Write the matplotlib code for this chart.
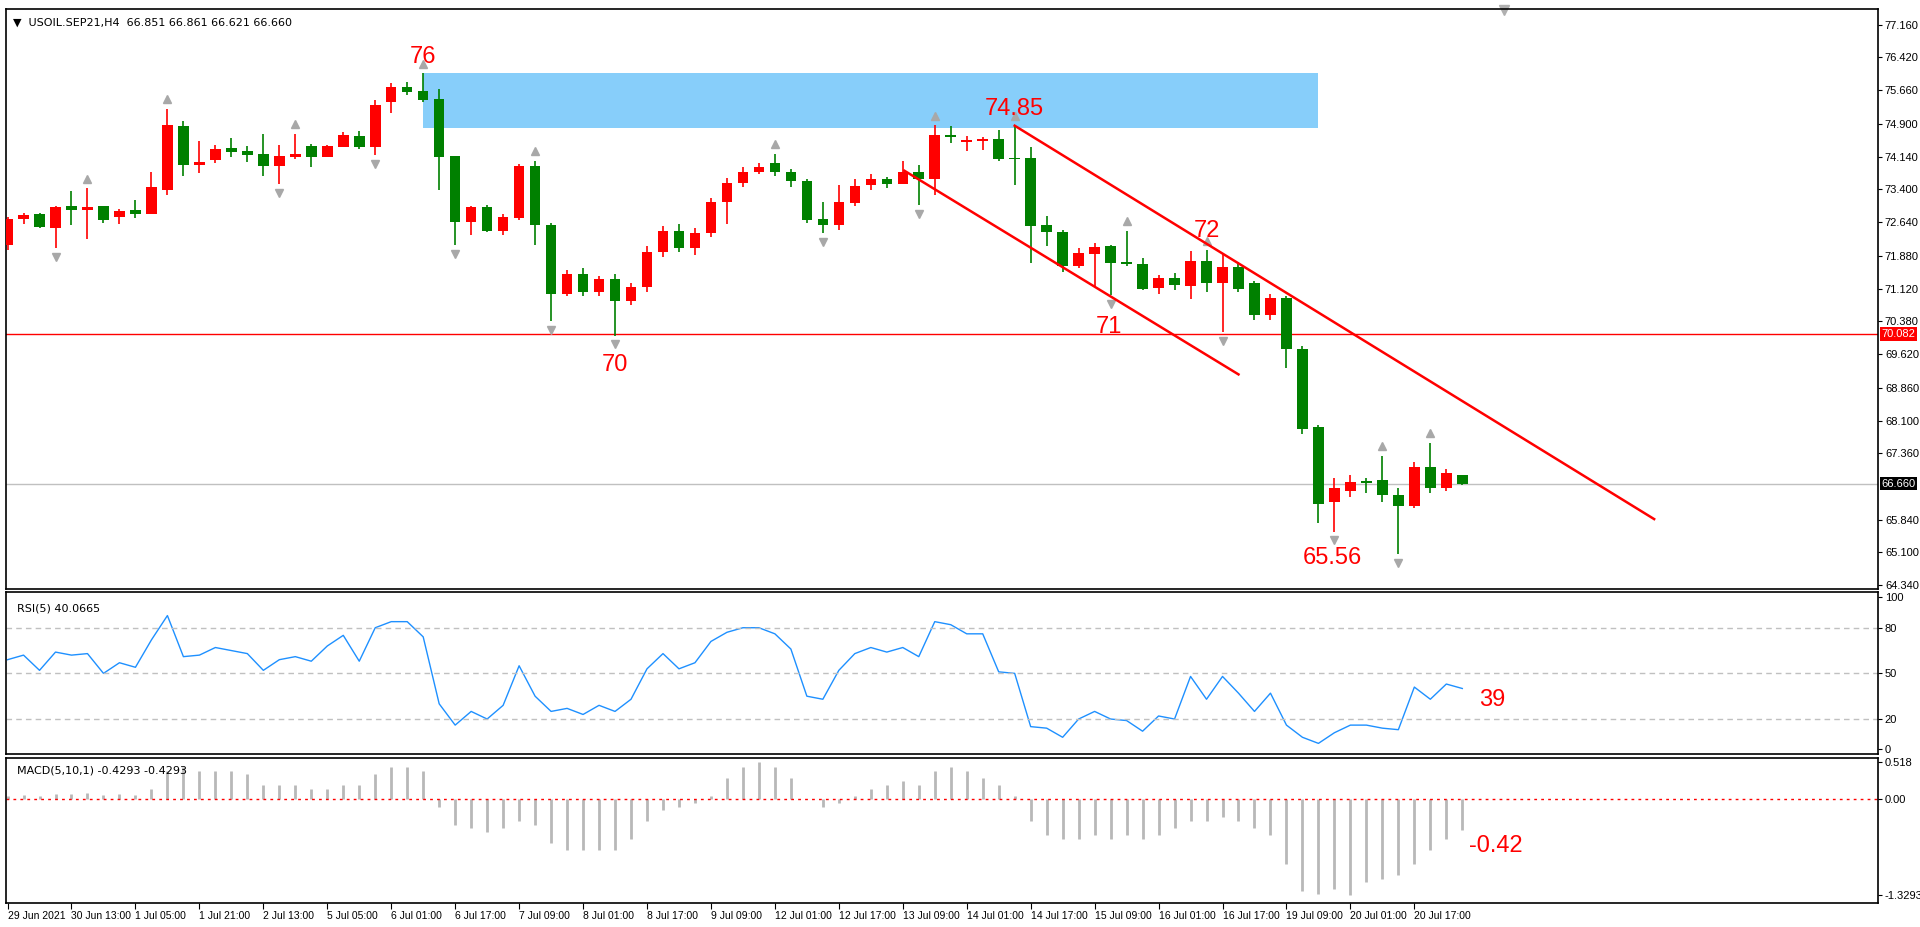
import matplotlib
matplotlib.use("Agg")
from matplotlib import pyplot as plt
from matplotlib.patches import Rectangle
from matplotlib.transforms import blended_transform_factory
import numpy as np

plt.rcParams['font.family'] = ['Liberation Sans', 'DejaVu Sans']

# H4 candles, bar index 0..91
opens = [72.12, 72.72, 72.83, 72.51, 73.01, 72.92, 73.01, 72.76, 72.92, 72.83,
         73.38, 74.84, 73.96, 74.06, 74.34, 74.27, 74.20, 73.93, 74.13, 74.38,
         74.13, 74.36, 74.61, 74.36, 75.39, 75.73, 75.64, 75.46, 74.16, 72.65,
         72.99, 72.44, 72.74, 73.93, 72.58, 71.00, 71.45, 71.05, 71.35, 70.85,
         71.15, 71.95, 72.45, 72.05, 72.40, 73.10, 73.55, 73.80, 74.00, 73.80,
         73.58, 72.72, 72.58, 73.08, 73.49, 73.63, 73.52, 73.79, 73.63, 74.64,
         74.48, 74.50, 74.54, 74.11, 74.11, 72.58, 72.42, 71.64, 71.92, 72.10,
         71.73, 71.68, 71.14, 71.37, 71.19, 71.76, 71.24, 71.62, 71.25, 70.52,
         70.90, 69.75, 67.95, 66.25, 66.50, 66.72, 66.75, 66.40, 66.15, 67.05,
         66.55, 66.851]
highs = [72.75, 72.85, 72.86, 73.01, 73.36, 73.42, 73.01, 72.94, 73.15, 73.79,
         75.23, 74.96, 74.50, 74.41, 74.57, 74.38, 74.66, 74.41, 74.66, 74.43,
         74.41, 74.70, 74.72, 75.43, 75.82, 75.85, 76.05, 75.69, 74.16, 73.01,
         73.03, 72.83, 73.97, 74.04, 72.62, 71.55, 71.60, 71.40, 71.45, 71.25,
         72.10, 72.55, 72.60, 72.50, 73.20, 73.65, 73.90, 74.00, 74.20, 73.85,
         73.63, 73.10, 73.49, 73.63, 73.74, 73.68, 74.04, 73.95, 74.86, 74.84,
         74.61, 74.58, 74.75, 74.86, 74.36, 72.78, 72.46, 72.05, 72.17, 72.12,
         72.44, 71.82, 71.44, 71.48, 71.98, 72.00, 71.91, 71.73, 71.30, 71.00,
         70.95, 69.80, 68.00, 66.80, 66.85, 66.80, 67.30, 66.55, 67.15, 67.60,
         67.00, 66.861]
lows = [72.00, 72.60, 72.50, 72.05, 72.58, 72.26, 72.62, 72.60, 72.74, 72.83,
        73.26, 73.70, 73.77, 73.99, 74.13, 74.03, 73.70, 73.52, 74.09, 73.90,
        74.13, 74.36, 74.31, 74.18, 75.14, 75.55, 75.39, 73.39, 72.12, 72.35,
        72.42, 72.34, 72.69, 72.12, 70.38, 70.95, 70.95, 70.95, 70.05, 70.75,
        71.05, 71.85, 71.95, 71.90, 72.30, 72.60, 73.45, 73.75, 73.70, 73.45,
        72.63, 72.40, 72.46, 73.01, 73.38, 73.42, 73.52, 73.04, 73.26, 74.45,
        74.27, 74.29, 74.04, 73.49, 71.71, 72.10, 71.51, 71.60, 71.16, 70.98,
        71.64, 71.09, 71.00, 71.09, 70.89, 71.05, 70.13, 71.05, 70.40, 70.40,
        69.30, 67.80, 65.75, 65.56, 66.35, 66.45, 66.25, 65.05, 66.10, 66.45,
        66.50, 66.621]
closes = [72.72, 72.81, 72.53, 72.99, 72.92, 72.99, 72.69, 72.90, 72.83, 73.45,
          74.86, 73.96, 74.02, 74.32, 74.25, 74.18, 73.93, 74.16, 74.20, 74.13,
          74.38, 74.63, 74.36, 75.32, 75.73, 75.62, 75.43, 74.13, 72.65, 72.99,
          72.44, 72.76, 73.93, 72.58, 71.00, 71.45, 71.05, 71.35, 70.85, 71.15,
          71.95, 72.45, 72.05, 72.40, 73.10, 73.55, 73.80, 73.90, 73.80, 73.58,
          72.69, 72.58, 73.10, 73.47, 73.63, 73.52, 73.79, 73.63, 74.64, 74.59,
          74.52, 74.54, 74.09, 74.09, 72.56, 72.42, 71.64, 71.94, 72.08, 71.71,
          71.68, 71.12, 71.37, 71.21, 71.76, 71.24, 71.62, 71.12, 70.52, 70.90,
          69.75, 67.90, 66.20, 66.55, 66.70, 66.68, 66.40, 66.15, 67.05, 66.55,
          66.90, 66.660]

rsi = [59, 62, 52, 64, 62, 63, 50, 57, 54, 72,
       88, 61, 62, 67, 65, 63, 52, 59, 61, 58,
       68, 75, 58, 80, 84, 84, 74, 30, 16, 25,
       20, 29, 55, 35, 25, 27, 23, 29, 25, 33,
       53, 63, 53, 57, 71, 77, 80, 80, 76, 66,
       35, 33, 52, 63, 67, 64, 67, 61, 84, 82,
       76, 76, 51, 50, 15, 14, 8, 20, 25, 20,
       19, 12, 22, 20, 48, 33, 48, 37, 25, 37,
       16, 8, 4, 11, 16, 16, 14, 13, 41, 33,
       43, 40.07]

macd = [0.05, 0.06, 0.05, 0.08, 0.08, 0.09, 0.06, 0.07, 0.06, 0.15,
        0.40, 0.45, 0.40, 0.40, 0.40, 0.35, 0.20, 0.20, 0.20, 0.15,
        0.15, 0.20, 0.20, 0.35, 0.45, 0.45, 0.40, -0.10, -0.35, -0.40,
        -0.45, -0.40, -0.30, -0.35, -0.60, -0.70, -0.70, -0.70, -0.70, -0.55,
        -0.30, -0.15, -0.10, -0.05, 0.05, 0.30, 0.45, 0.518, 0.45, 0.30,
        0.00, -0.10, -0.05, 0.05, 0.15, 0.20, 0.25, 0.20, 0.40, 0.45,
        0.40, 0.30, 0.20, 0.05, -0.30, -0.50, -0.55, -0.55, -0.50, -0.55,
        -0.50, -0.55, -0.50, -0.40, -0.30, -0.30, -0.25, -0.30, -0.40, -0.50,
        -0.90, -1.28, -1.32, -1.25, -1.3293, -1.15, -1.10, -1.05, -0.90, -0.70,
        -0.55, -0.4293]

time_labels = ['29 Jun 2021', '30 Jun 13:00', '1 Jul 05:00', '1 Jul 21:00', '2 Jul 13:00',
               '5 Jul 05:00', '6 Jul 01:00', '6 Jul 17:00', '7 Jul 09:00', '8 Jul 01:00',
               '8 Jul 17:00', '9 Jul 09:00', '12 Jul 01:00', '12 Jul 17:00', '13 Jul 09:00',
               '14 Jul 01:00', '14 Jul 17:00', '15 Jul 09:00', '16 Jul 01:00', '16 Jul 17:00',
               '19 Jul 09:00', '20 Jul 01:00', '20 Jul 17:00']

price_ticks = [77.160, 76.420, 75.660, 74.900, 74.140, 73.400, 72.640, 71.880, 71.120,
               70.380, 69.620, 68.860, 68.100, 67.360, 65.840, 65.100, 64.340]

up_marks = [5, 10, 18, 26, 33, 48, 58, 63, 70, 75, 86, 89]
down_marks = [3, 17, 23, 28, 34, 38, 51, 57, 69, 76, 83, 87]

support = 70.082
last_price = 66.660

# annotations: (bar, value, text)
price_notes = [(26, 76.42, '76'), (63, 75.23, '74.85'), (75, 72.43, '72'),
               (68.9, 70.25, '71'), (38, 69.38, '70'), (82.9, 64.96, '65.56')]

n = len(opens)
x = np.arange(n)
up_col = '#FF0000'
down_col = '#008000'

fig = plt.figure(figsize=(19.2, 9.27), dpi=100)
ax = fig.add_axes([0.0031, 0.3646, 0.975, 0.6257])
ax_rsi = fig.add_axes([0.0031, 0.1866, 0.975, 0.1748])
ax_macd = fig.add_axes([0.0031, 0.0259, 0.975, 0.1564])

xlim = (-0.1, 117.0)

# ---- price panel ----
ax.add_patch(Rectangle((26, 74.80), 82 - 26, 76.05 - 74.80, color='#87CEFA', zorder=1, lw=0))
ax.axhline(support, color='#FF0000', lw=1, zorder=1.5)
ax.axhline(last_price, color='#C0C0C0', lw=1, zorder=1.5)

colors = [up_col if c >= o else down_col for o, c in zip(opens, closes)]
ax.vlines(x, lows, highs, colors=colors, lw=1.2, zorder=2)
bodies = [max(abs(c - o), 0.02) for o, c in zip(opens, closes)]
ax.bar(x, bodies, bottom=np.minimum(opens, closes), width=0.66, color=colors, lw=0, zorder=3)

hi = np.array(highs)
lo = np.array(lows)
ax.plot(up_marks, hi[up_marks] + 0.22, ls='none', marker='^', ms=6, color='#A8A8A8', zorder=4)
ax.plot(down_marks, lo[down_marks] - 0.2, ls='none', marker='v', ms=6, color='#A8A8A8', zorder=4)

# trend channel
ax.plot([63, 103], [74.85, 65.85], color='#FF0000', lw=1.8, zorder=5)
ax.plot([56.1, 77.0], [73.82, 69.16], color='#FF0000', lw=1.8, zorder=5)

for bx, by, t in price_notes:
    ax.text(bx, by, t, color='#FF0000', fontsize=17, ha='center', va='center', zorder=6)

ax.set_xlim(*xlim)
ax.set_ylim(64.25, 77.52)
ax.yaxis.tick_right()
ax.set_yticks(price_ticks)
ax.set_yticklabels(['%.3f' % v for v in price_ticks])
ax.set_xticks([])
ax.tick_params(axis='y', labelsize=8, length=3, pad=2)

tr = blended_transform_factory(ax.transAxes, ax.transData)
ax.text(1.002, support, '70.082', transform=tr, fontsize=8, color='white', va='center', ha='left',
        bbox=dict(boxstyle='square,pad=0.15', fc='#FF0000', ec='none'), zorder=10, clip_on=False)
ax.text(1.002, last_price, '66.660', transform=tr, fontsize=8, color='white', va='center', ha='left',
        bbox=dict(boxstyle='square,pad=0.15', fc='black', ec='none'), zorder=10, clip_on=False)

ax.text(0.004, 0.985, '\u25bc  USOIL.SEP21,H4  66.851 66.861 66.621 66.660', transform=ax.transAxes,
        fontsize=8, va='top', ha='left', family=['DejaVu Sans'])
ax.plot([93.6], [77.49], marker='v', ms=7, color='#B0B0B0', clip_on=False)

# ---- RSI panel ----
ax_rsi.plot(x, rsi, color='#1E90FF', lw=1)
for lvl in (80, 50, 20):
    ax_rsi.axhline(lvl, color='#C0C0C0', lw=1, ls=(0, (4, 3)))
ax_rsi.set_xlim(*xlim)
ax_rsi.set_ylim(-3, 103.5)
ax_rsi.yaxis.tick_right()
ax_rsi.set_yticks([100, 80, 50, 20, 0])
ax_rsi.set_xticks([])
ax_rsi.tick_params(axis='y', labelsize=8, length=3, pad=2)
ax_rsi.text(0.006, 0.93, 'RSI(5) 40.0665', transform=ax_rsi.transAxes, fontsize=8, va='top',
            family=['DejaVu Sans'])
ax_rsi.text(92.9, 32.8, '39', color='#FF0000', fontsize=17, ha='center', va='center')

# ---- MACD panel ----
ax_macd.vlines(x, 0, macd, colors='#B8B8B8', lw=2)
ax_macd.axhline(0, color='#FF0000', lw=1, ls=(0, (2, 3)))
ax_macd.set_xlim(*xlim)
ax_macd.set_ylim(-1.44, 0.574)
ax_macd.yaxis.tick_right()
ax_macd.set_yticks([0.518, 0.0, -1.3293])
ax_macd.set_yticklabels(['0.518', '0.00', '-1.3293'])
ax_macd.tick_params(axis='y', labelsize=8, length=3, pad=2)
ax_macd.text(0.006, 0.95, 'MACD(5,10,1) -0.4293 -0.4293', transform=ax_macd.transAxes, fontsize=8,
             va='top', family=['DejaVu Sans'])
ax_macd.text(93.1, -0.65, '-0.42', color='#FF0000', fontsize=17, ha='center', va='center')

ax_macd.set_xticks(np.arange(0, 4 * len(time_labels), 4))
ax_macd.set_xticklabels(time_labels, ha='left')
ax_macd.tick_params(axis='x', labelsize=7.5, length=4, pad=2)

for a in (ax, ax_rsi, ax_macd):
    for s in a.spines.values():
        s.set_color('black')
        s.set_linewidth(1.2)

fig.savefig('out.png', dpi=100)
